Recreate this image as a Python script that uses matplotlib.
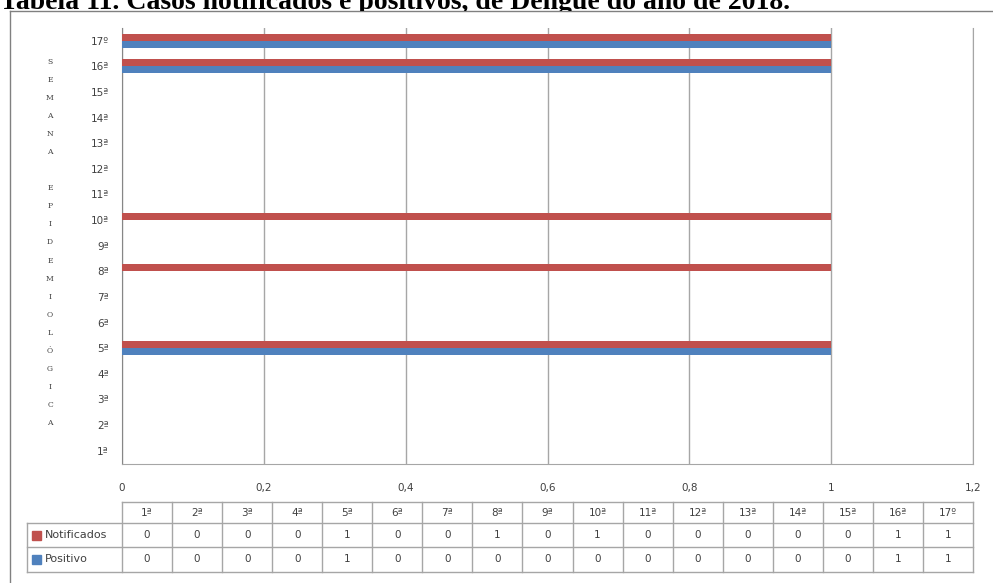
import matplotlib

matplotlib.use("Agg")
import matplotlib.pyplot as plt  # noqa: E402
import numpy as np  # noqa: E402
from matplotlib.lines import Line2D  # noqa: E402
from matplotlib.patches import Rectangle  # noqa: E402
from matplotlib.transforms import Bbox, TransformedBbox  # noqa: E402

# --- dados -----------------------------------------------------------------
TITULO = "Tabela 11. Casos notificados e positivos, de Dengue do ano de 2018."
SEMANAS = ["1ª", "2ª", "3ª", "4ª", "5ª", "6ª", "7ª", "8ª", "9ª", "10ª",
           "11ª", "12ª", "13ª", "14ª", "15ª", "16ª", "17º"]
NOTIFICADOS = [0, 0, 0, 0, 1, 0, 0, 1, 0, 1, 0, 0, 0, 0, 0, 1, 1]
POSITIVO = [0, 0, 0, 0, 1, 0, 0, 0, 0, 0, 0, 0, 0, 0, 0, 1, 1]
SERIES = ["Notificados", "Positivo"]
X_TICKS = [0, 0.2, 0.4, 0.6, 0.8, 1.0, 1.2]
EIXO_Y = "SEMANA EPIDEMIOLÓGICA"

# --- estilo ------------------------------------------------------------------
W, H, DPI = 993, 583, 100
RED, BLUE = "#C0504D", "#4F81BD"
GRID = "#A6A6A6"
AXIS = "#868686"
INK = "#404040"
FRAME = "#808080"

plt.rcParams.update({"font.family": "DejaVu Sans", "font.size": 7.5})

fig = plt.figure(figsize=(W / DPI, H / DPI), dpi=DPI)
fig.patch.set_facecolor("white")

# moldura externa do gráfico (cortada à direita e embaixo)
fig.add_artist(Line2D([10 / W, 1], [1 - 11 / H] * 2, color=FRAME, lw=1))
fig.add_artist(Line2D([10 / W] * 2, [1 - 11 / H, 0], color=FRAME, lw=1))

# título do documento, encoberto pela imagem do gráfico abaixo da moldura
t = fig.text(0.0, 1 - 9 / H, TITULO, fontfamily="Liberation Serif",
             fontweight="bold", fontsize=20, va="baseline", color="black")
t.set_clip_box(TransformedBbox(Bbox([[0, 1 - 10.5 / H], [1, 1]]),
                               fig.transFigure))
t.set_clip_on(True)

# --- barras ------------------------------------------------------------------
ax = fig.add_axes([122 / W, 1 - 463.5 / H, 851 / W, 435.6 / H])
y = np.arange(len(SEMANAS))
h = 0.27
ax.barh(y + h / 2, NOTIFICADOS, height=h, color=RED, zorder=3)
ax.barh(y - h / 2, POSITIVO, height=h, color=BLUE, zorder=3)
ax.set_xlim(0, 1.2)
ax.set_ylim(-0.5, len(SEMANAS) - 0.5)
ax.set_yticks(y, SEMANAS)
ax.set_xticks(X_TICKS, [f"{v:g}".replace(".", ",") for v in X_TICKS])
ax.tick_params(axis="both", length=0, colors=INK, labelsize=7.5)
ax.tick_params(axis="y", pad=9.5)
ax.tick_params(axis="x", pad=14)
ax.grid(axis="x", color=GRID, lw=1)
ax.grid(axis="y", visible=False)
ax.set_axisbelow(True)
ax.spines["top"].set_visible(False)
ax.spines["right"].set_color(GRID)
ax.spines["left"].set_color(AXIS)
ax.spines["bottom"].set_color(GRID)

# título do eixo vertical, letra por letra
for i, ch in enumerate(EIXO_Y):
    if ch != " ":
        fig.text(50 / W, 1 - (62 + 18.05 * i) / H, ch, ha="center",
                 va="center", fontfamily="DejaVu Serif", fontsize=5.5,
                 color=INK)

# --- tabela de dados -----------------------------------------------------------
cw = 1.2 / len(SEMANAS)
u = 0.2 / 141.8  # 1 pixel em unidades de x
leg = 95 * u
rows = [0, 21, 45, 70]
tax = fig.add_axes([27 / W, 1 - 572 / H, 946 / W, 70 / H])
tax.set_xlim(-leg, 1.2)
tax.set_ylim(70, 0)
tax.axis("off")
lk = dict(color=GRID, lw=1, clip_on=False)
tax.plot([0, 1.2], [rows[0]] * 2, **lk)
for r in rows[1:]:
    tax.plot([-leg, 1.2], [r, r], **lk)
tax.plot([-leg, -leg], [rows[1], rows[3]], **lk)
for i in range(len(SEMANAS) + 1):
    tax.plot([i * cw] * 2, [rows[0], rows[3]], **lk)

for i, s in enumerate(SEMANAS):
    tax.text((i + 0.5) * cw, (rows[0] + rows[1]) / 2, s, ha="center",
             va="center", color=INK)
for r, (nome, vals, cor) in enumerate(
        zip(SERIES, [NOTIFICADOS, POSITIVO], [RED, BLUE])):
    yc = (rows[r + 1] + rows[r + 2]) / 2
    tax.add_patch(Rectangle((-leg + 5 * u, yc - 4.5), 9 * u, 9, color=cor,
                            clip_on=False))
    tax.text(-leg + 18 * u, yc, nome, ha="left", va="center", color=INK,
             fontsize=8)
    for i, v in enumerate(vals):
        tax.text((i + 0.5) * cw, yc, str(v), ha="center", va="center",
                 color=INK)

fig.savefig("out.png", dpi=DPI)
